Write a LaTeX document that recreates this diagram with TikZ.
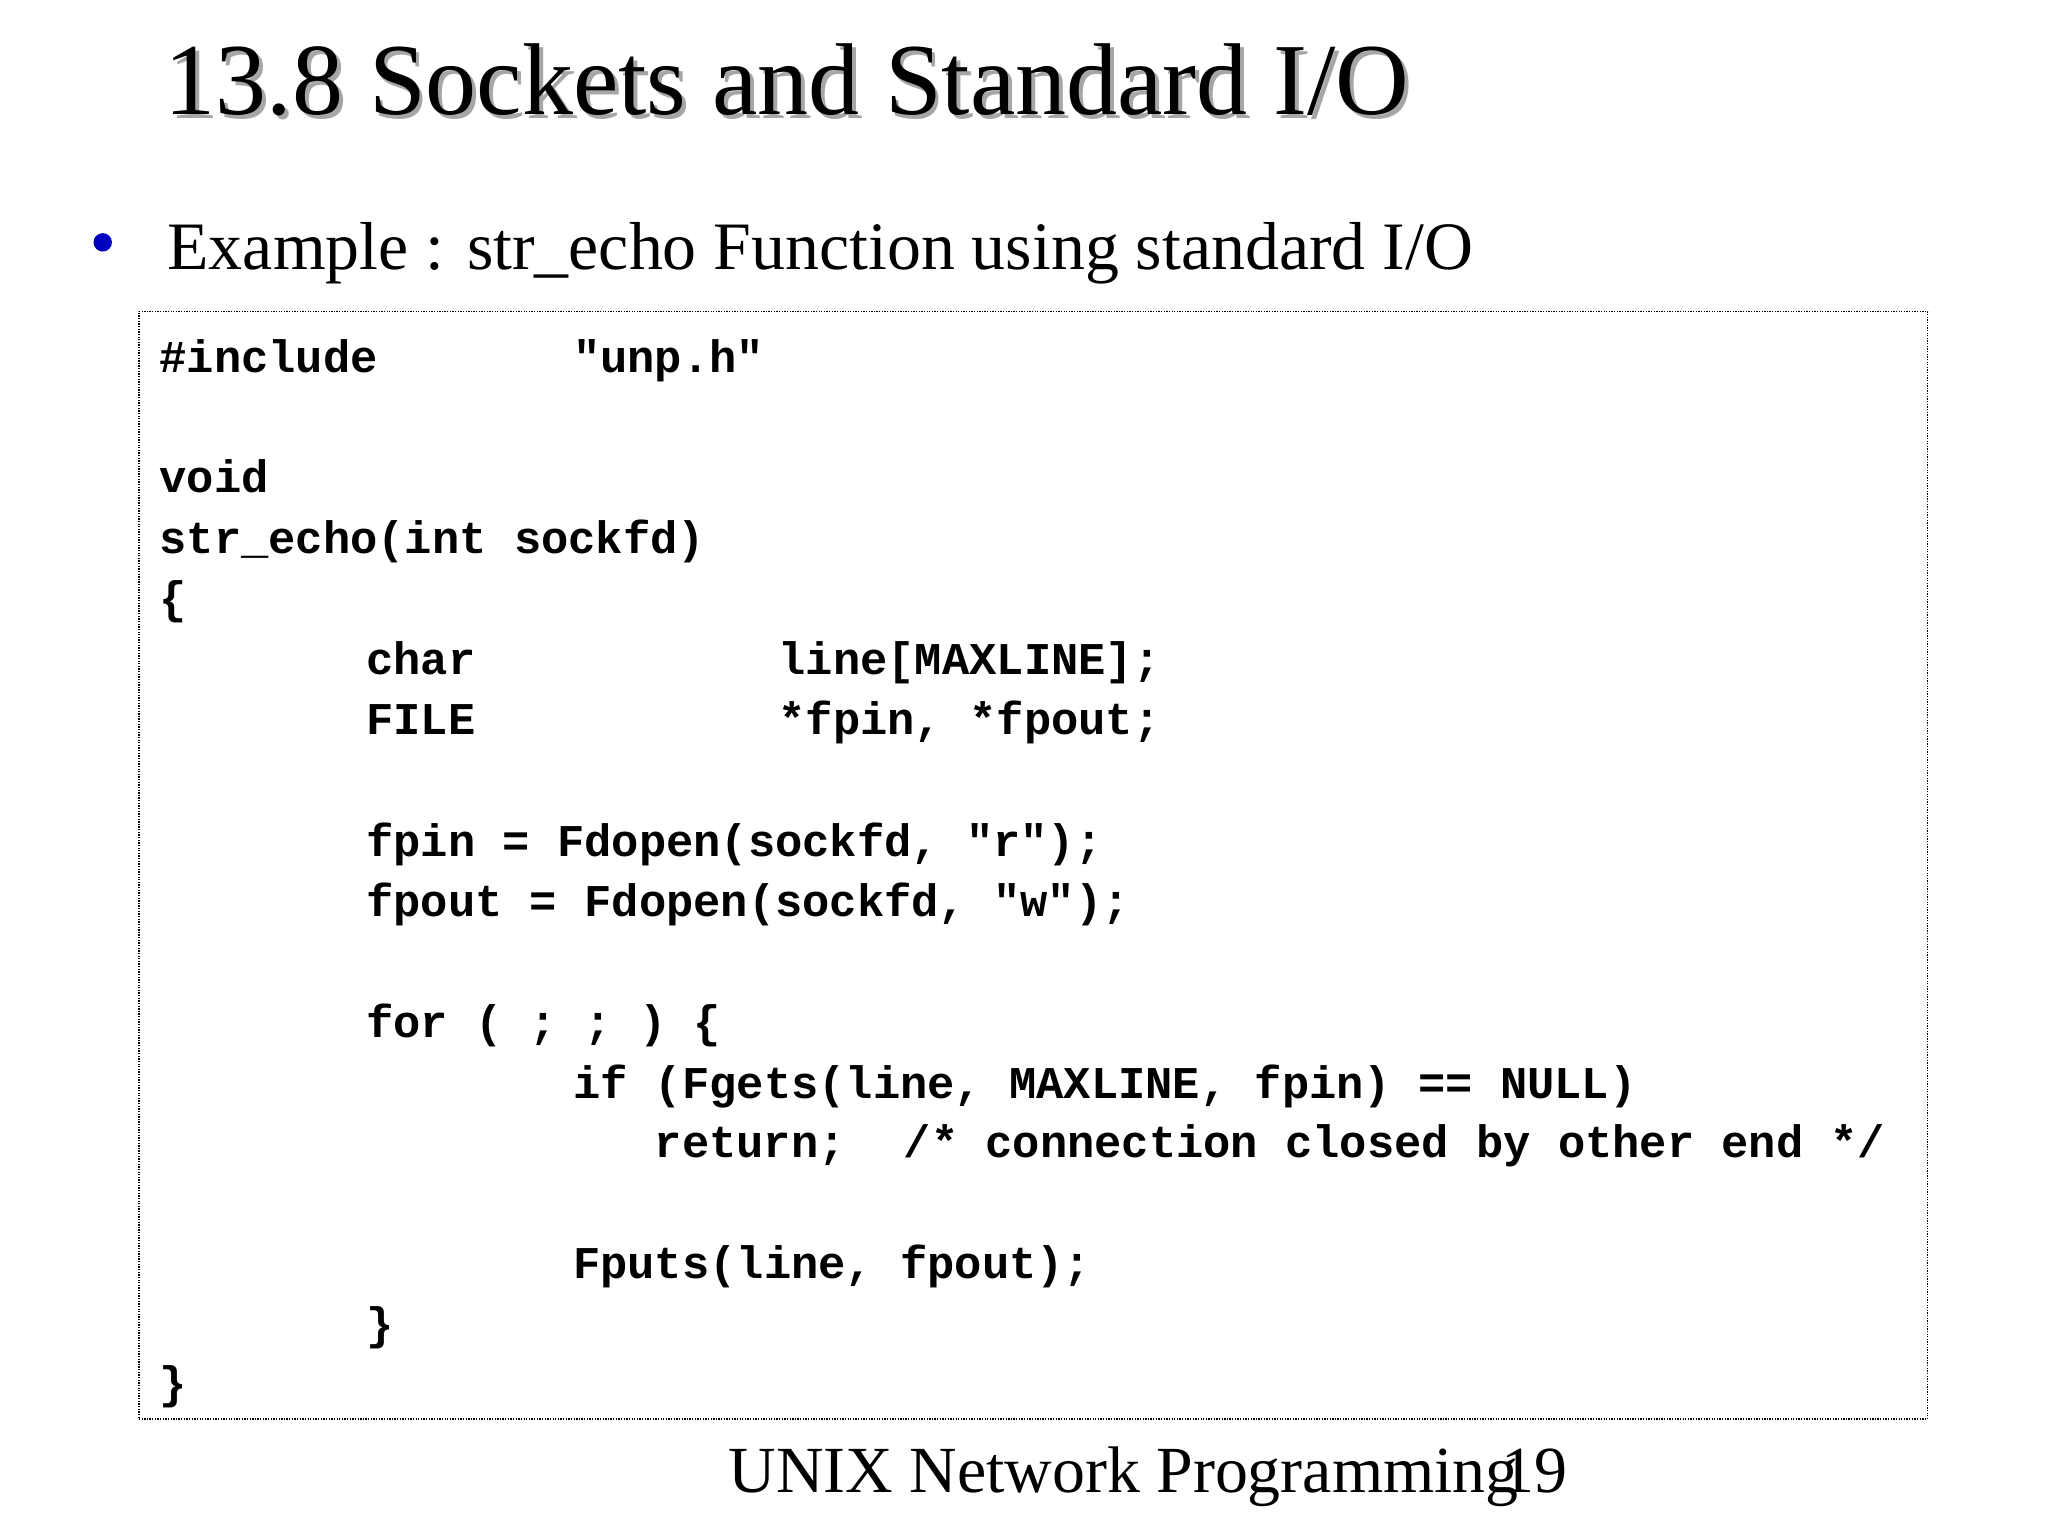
\documentclass[tikz,border=0pt]{standalone}
\usepackage{fontspec}
\setmainfont{Liberation Serif}
\newfontfamily\codefont{Liberation Mono}
\begin{document}
\begin{tikzpicture}[x=1pt,y=-1pt,
  code/.style={anchor=base west,inner sep=0pt,font=\codefont\bfseries\fontsize{34.5}{40}\selectfont}]
\useasboundingbox[fill=white] (0,0) rectangle (1555,1166);
\node[anchor=base west,inner sep=0pt,text=black!35,font=\fontsize{77.5}{90}\selectfont] (tsh) at (128,90) {13.8 Sockets and Standard I/O};
\node[anchor=base west,inner sep=0pt,font=\fontsize{77.5}{90}\selectfont] (title) at (125,87) {13.8 Sockets and Standard I/O};
\node[circle,fill=blue!75!black,minimum size=14pt,inner sep=0pt] (bul) at (78,184) {};
\node[anchor=base west,inner sep=0pt,font=\fontsize{51.5}{60}\selectfont] (sub) at (127,205) {Example : str\_echo Function using standard I/O};
\node[draw,densely dotted,line width=1pt,minimum width=1358pt,minimum height=841pt,anchor=north west,inner sep=0pt] (box) at (105,236) {};
\node[code] (l1a) at (121,283) {\#include};
\node[code] (l1b) at (435,283) {"unp.h"};
\node[code] (l2) at (121,374) {void};
\node[code] (l3) at (121,420) {str\_echo(int sockfd)};
\node[code] (l4) at (121,466) {\{};
\node[code] (l5a) at (278,512) {char};
\node[code] (l5b) at (591,512) {line[MAXLINE];};
\node[code] (l6a) at (278,558) {FILE};
\node[code] (l6b) at (591,558) {*fpin, *fpout;};
\node[code] (l7) at (278,650) {fpin = Fdopen(sockfd, "r");};
\node[code] (l8) at (278,696) {fpout = Fdopen(sockfd, "w");};
\node[code] (l9) at (278,788) {for ( ; ; ) \{};
\node[code] (l10) at (435,834) {if (Fgets(line, MAXLINE, fpin) == NULL)};
\node[code] (l11a) at (497,879) {return;};
\node[code] (l11b) at (686,879) {/* connection closed by other end */};
\node[code] (l12) at (435,971) {Fputs(line, fpout);};
\node[code] (l13) at (278,1017) {\}};
\node[code] (l14) at (121,1062) {\}};
\node[anchor=base west,inner sep=0pt,font=\fontsize{50}{60}\selectfont] (foot) at (553,1133) {UNIX Network Programming};
\node[anchor=base west,inner sep=0pt,font=\fontsize{50}{60}\selectfont] (pg) at (1140,1133) {19};
\end{tikzpicture}
\end{document}
